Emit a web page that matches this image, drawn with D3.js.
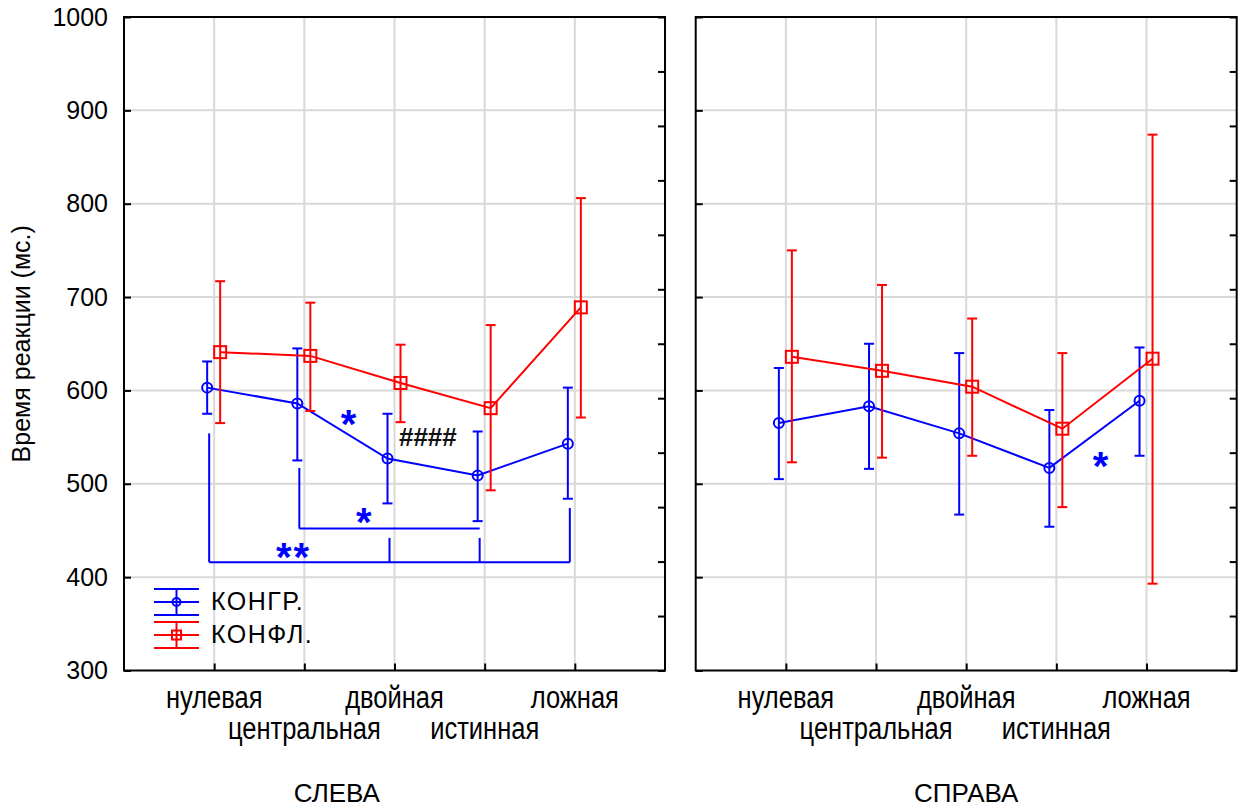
<!DOCTYPE html>
<html>
<head>
<meta charset="utf-8">
<script src="https://cdn.jsdelivr.net/npm/d3@7"></script>
<style>
  body { margin: 0; background: #fff; }
  svg text { font-family: "Liberation Sans", Arial, sans-serif; fill: #000; }
</style>
</head>
<body>
<svg id="chart" width="1248" height="807"></svg>
<script>
const categories = ['нулевая', 'центральная', 'двойная', 'истинная', 'ложная'];
const panelNames = ['СЛЕВА', 'СПРАВА'];
const seriesNames = ['КОНГР.', 'КОНФЛ.'];
const yTicks = [300, 400, 500, 600, 700, 800, 900, 1000];

// left panel (СЛЕВА)
const congrLeft = [603, 586, 527, 509, 543];
const congrLeftLow = [575, 525, 479, 460, 484];
const congrLeftHigh = [631, 645, 575, 556, 603];
const conflLeft = [641, 637, 608, 581, 689];
const conflLeftLow = [565, 578, 566, 493, 571];
const conflLeftHigh = [717, 694, 649, 670, 806];

// right panel (СПРАВА)
const congrRight = [565, 583, 554, 517, 589];
const congrRightLow = [505, 516, 467, 454, 530];
const congrRightHigh = [624, 650, 640, 579, 646];
const conflRight = [636, 621, 604, 559, 634];
const conflRightLow = [523, 528, 530, 475, 393];
const conflRightHigh = [750, 713, 677, 640, 874];

// significance marks: x in category index units, y in ms
const marks = [
  {panel: 0, x: 1.5, y: 576, text: '*', star: true},
  {panel: 0, x: 1.67, y: 471, text: '*', star: true},
  {panel: 0, x: 0.88, y: 433, text: '**', star: true},
  {panel: 0, x: 2.37, y: 550, text: '####', star: false},
  {panel: 1, x: 3.5, y: 531, text: '*', star: true}
];
// brackets under the left panel curves (category index, ms)
const brackets = [
  {from: 0, to: 4, y: 416, legs: [[0, 554], [4, 474], [2, 442], [3, 442]]},
  {from: 1, to: 3, y: 452, legs: [[1, 517]]}
];

const panels = [
  {name: panelNames[0], labelAt: 1.36, series: [
    {name: seriesNames[0], mean: congrLeft, low: congrLeftLow, high: congrLeftHigh},
    {name: seriesNames[1], mean: conflLeft, low: conflLeftLow, high: conflLeftHigh}]},
  {name: panelNames[1], labelAt: 2.0, series: [
    {name: seriesNames[0], mean: congrRight, low: congrRightLow, high: congrRightHigh},
    {name: seriesNames[1], mean: conflRight, low: conflRightLow, high: conflRightHigh}]}
];

const colors = ['#0000ff', '#ff0000'];
const dodge = [-7, 6];
const panelX = [124, 695.7];
const plotTop = 17;
const panelW = 541;
const panelH = 653.5;

const svg = d3.select('#chart');
const x = d3.scaleLinear().domain([-1, 5]).range([0, panelW]);
const y = d3.scaleLinear().domain([300, 1000]).range([panelH, 0]);
const y12 = d3.scaleLinear().domain([0, 12]).range([panelH, 0]);

// y axis title
svg.append('text')
  .attr('transform', `translate(30,${plotTop + panelH / 2}) rotate(-90)`)
  .attr('text-anchor', 'middle')
  .attr('font-size', 25)
  .text('Время реакции (мс.)');

panels.forEach((p, pi) => {
  const g = svg.append('g').attr('transform', `translate(${panelX[pi]},${plotTop})`);

  // grid
  g.append('g')
    .attr('stroke', '#d9d9d9')
    .attr('stroke-width', 2)
    .call(s => s.selectAll('.h')
      .data(yTicks.slice(1, -1))
      .join('line')
      .attr('x1', 0).attr('x2', panelW)
      .attr('y1', d => y(d)).attr('y2', d => y(d)))
    .call(s => s.selectAll('.v')
      .data(categories)
      .join('line')
      .attr('x1', (d, i) => x(i)).attr('x2', (d, i) => x(i))
      .attr('y1', 0).attr('y2', panelH));

  // axes with inward ticks
  const left = g.append('g')
    .call(d3.axisLeft(y).tickValues(yTicks).tickSize(-7).tickPadding(16)
      .tickFormat(pi === 0 ? d3.format('d') : ''));
  const right = g.append('g').attr('transform', `translate(${panelW},0)`)
    .call(d3.axisRight(y12).ticks(12).tickSize(-7).tickFormat(''));
  const bottom = g.append('g').attr('transform', `translate(0,${panelH})`)
    .call(d3.axisBottom(x).tickValues(d3.range(categories.length)).tickSize(-7).tickFormat(''));
  [left, right, bottom].forEach(a => {
    a.select('.domain').remove();
    a.selectAll('line').attr('stroke', '#000').attr('stroke-width', 2);
    a.attr('font-size', 25).attr('font-family', null);
  });
  left.selectAll('text').attr('fill', '#000');

  g.append('rect')
    .attr('width', panelW).attr('height', panelH)
    .attr('fill', 'none').attr('stroke', '#000').attr('stroke-width', 2);

  // category labels, alternating rows
  g.append('g').selectAll('text')
    .data(categories)
    .join('text')
    .attr('transform', (d, i) => `translate(${x(i)},${panelH + (i % 2 ? 68.5 : 37.5)}) scale(1,1.25)`)
    .attr('text-anchor', 'middle')
    .attr('font-size', 25.5)
    .text(d => d);

  g.append('text')
    .attr('x', x(p.labelAt))
    .attr('y', panelH + 131)
    .attr('text-anchor', 'middle')
    .attr('font-size', 26)
    .text(p.name);

  // brackets
  if (pi === 0) {
    const bg = g.append('g').attr('stroke', colors[0]).attr('stroke-width', 2).attr('fill', 'none');
    brackets.forEach(b => {
      bg.append('line')
        .attr('x1', x(b.from) - 5).attr('x2', x(b.to) - 5)
        .attr('y1', y(b.y)).attr('y2', y(b.y));
      b.legs.forEach(([c, v]) => {
        bg.append('line')
          .attr('x1', x(c) - 5).attr('x2', x(c) - 5)
          .attr('y1', y(v)).attr('y2', y(b.y));
      });
    });
  }

  // series
  p.series.forEach((s, si) => {
    const sg = g.append('g').attr('stroke', colors[si]).attr('fill', 'none').attr('stroke-width', 2);
    const px = i => x(i) + dodge[si];
    sg.append('path')
      .attr('d', d3.line().x((d, i) => px(i)).y(d => y(d))(s.mean));
    const eb = sg.selectAll('.eb')
      .data(s.mean)
      .join('g');
    eb.append('line')
      .attr('x1', (d, i) => px(i)).attr('x2', (d, i) => px(i))
      .attr('y1', (d, i) => y(s.low[i])).attr('y2', (d, i) => y(s.high[i]));
    eb.append('line')
      .attr('x1', (d, i) => px(i) - 5).attr('x2', (d, i) => px(i) + 5)
      .attr('y1', (d, i) => y(s.high[i])).attr('y2', (d, i) => y(s.high[i]));
    eb.append('line')
      .attr('x1', (d, i) => px(i) - 5).attr('x2', (d, i) => px(i) + 5)
      .attr('y1', (d, i) => y(s.low[i])).attr('y2', (d, i) => y(s.low[i]));
    if (si === 0) {
      eb.append('circle')
        .attr('cx', (d, i) => px(i)).attr('cy', d => y(d)).attr('r', 5);
    } else {
      eb.append('rect')
        .attr('x', (d, i) => px(i) - 6).attr('y', d => y(d) - 6)
        .attr('width', 12).attr('height', 12);
    }
  });

  // significance marks
  g.append('g').selectAll('text')
    .data(marks.filter(m => m.panel === pi))
    .join('text')
    .attr('x', d => x(d.x))
    .attr('y', d => y(d.y))
    .attr('dy', d => d.star ? '0.62em' : '0.36em')
    .attr('text-anchor', 'middle')
    .attr('font-size', d => d.star ? 40 : 26)
    .attr('font-weight', 'bold')
    .attr('letter-spacing', d => d.star ? 2 : 0)
    .style('fill', d => d.star ? colors[0] : '#111')
    .text(d => d.text);

  // legend
  if (pi === 0) {
    const lg = g.append('g').attr('transform', 'translate(30,585)');
    seriesNames.forEach((name, si) => {
      const row = lg.append('g').attr('transform', `translate(0,${si * 33})`)
        .attr('stroke', colors[si]).attr('stroke-width', 2).attr('fill', 'none');
      [-13, 0, 13].forEach(dy => row.append('line').attr('x1', 0).attr('x2', 45).attr('y1', dy).attr('y2', dy));
      row.append('line').attr('x1', 22.5).attr('x2', 22.5).attr('y1', -13).attr('y2', 13);
      if (si === 0) row.append('circle').attr('cx', 22.5).attr('cy', 0).attr('r', 4);
      else row.append('rect').attr('x', 18).attr('y', -4.5).attr('width', 9).attr('height', 9);
      lg.append('text')
        .attr('x', 57).attr('y', si * 33 + 7.5)
        .attr('font-size', 25)
        .attr('letter-spacing', 1.5)
        .text(name);
    });
  }
});
</script>
</body>
</html>
